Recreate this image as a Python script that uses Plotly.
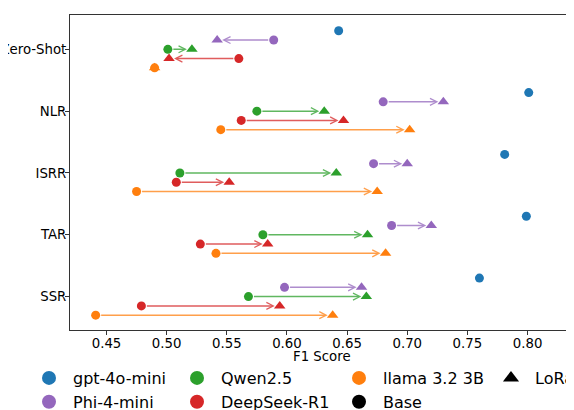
import plotly.graph_objects as go

categories = ["Zero-Shot", "NLR", "ISRR", "TAR", "SSR"]
x_ticks = [0.45, 0.50, 0.55, 0.60, 0.65, 0.70, 0.75, 0.80]
x_tick_labels = ["0.45", "0.50", "0.55", "0.60", "0.65", "0.70", "0.75", "0.80"]

gpt_base = [0.643, 0.801, 0.781, 0.799, 0.760]
phi_base = [0.589, 0.680, 0.672, 0.687, 0.598]
phi_lora = [0.542, 0.730, 0.700, 0.720, 0.662]
qwen_base = [0.501, 0.575, 0.511, 0.580, 0.568]
qwen_lora = [0.521, 0.631, 0.641, 0.667, 0.666]
deepseek_base = [0.560, 0.562, 0.508, 0.528, 0.479]
deepseek_lora = [0.502, 0.647, 0.552, 0.584, 0.594]
llama_base = [0.490, 0.545, 0.475, 0.541, 0.441]
llama_lora = [0.490, 0.702, 0.675, 0.682, 0.638]

models = [
    # name, base, lora, colour, rgba for arrows, offset
    ("gpt-4o-mini", gpt_base, None, "#1f77b4", "rgba(31,119,180,0.75)", -0.3),
    ("Phi-4-mini", phi_base, phi_lora, "#9467bd", "rgba(148,103,189,0.75)", -0.15),
    ("Qwen2.5", qwen_base, qwen_lora, "#2ca02c", "rgba(44,160,44,0.75)", 0.0),
    ("DeepSeek-R1", deepseek_base, deepseek_lora, "#d62728", "rgba(214,39,40,0.75)", 0.15),
    ("llama 3.2 3B", llama_base, llama_lora, "#ff7f0e", "rgba(255,127,14,0.75)", 0.3),
]

fig = go.Figure()
annotations = []
for name, base, lora, col, rgba, off in models:
    ys = [i + off for i in range(len(categories))]
    if lora is not None:
        fig.add_trace(go.Scatter(x=lora, y=ys, mode="markers", showlegend=False,
                                 marker=dict(symbol="triangle-up", size=10, color=col, line=dict(width=0))))
        for b, l, y in zip(base, lora, ys):
            if abs(l - b) > 1e-9:
                annotations.append(dict(x=l, y=y, ax=b, ay=y, xref="x", yref="y", axref="x", ayref="y",
                                        text="", showarrow=True, arrowhead=5, arrowsize=0.9, arrowwidth=1.5,
                                        arrowcolor=rgba, standoff=5, startstandoff=4))
    fig.add_trace(go.Scatter(x=base, y=ys, mode="markers", showlegend=False,
                             marker=dict(symbol="circle", size=9, color=col, line=dict(width=0))))

# legend entries
legend_items = [
    ("gpt-4o-mini", "circle", "#1f77b4", "legend"),
    ("Phi-4-mini", "circle", "#9467bd", "legend"),
    ("Qwen2.5", "circle", "#2ca02c", "legend2"),
    ("DeepSeek-R1", "circle", "#d62728", "legend2"),
    ("llama 3.2 3B", "circle", "#ff7f0e", "legend3"),
    ("Base", "circle", "black", "legend3"),
    ("LoRa", "triangle-up", "black", "legend4"),
]
for name, sym, col, lg in legend_items:
    fig.add_trace(go.Scatter(x=[None], y=[None], mode="markers", name=name, legend=lg,
                             legendgroup=name,
                             marker=dict(symbol=sym, size=14, color=col, line=dict(width=0))))

# the page body has an 8px margin; figure coords = page coords - 8
OFF = 8
W, H = 574, 410
PLOT_TOP = 15 - OFF
PLOT_BOT = 330 - OFF
font = "DejaVu Sans"
leg_common = dict(xref="container", yref="container", yanchor="top", xanchor="left",
                  font=dict(family=font, size=16, color="black"), itemwidth=38,
                  traceorder="grouped", tracegroupgap=0,
                  bgcolor="rgba(0,0,0,0)", borderwidth=0)
ytop = 1 - (361 - OFF) / H


def lx(sym_page_x):
    return (sym_page_x - OFF - 24) / W


title_y = (PLOT_BOT - (356 - OFF)) / (PLOT_BOT - PLOT_TOP)
annotations.append(dict(text="F1 Score", xref="paper", yref="paper", x=0.5, y=title_y,
                        xanchor="center", yanchor="middle", showarrow=False,
                        font=dict(family=font, size=13.3, color="black")))

fig.update_layout(
    width=W, height=H,
    margin=dict(l=70 - OFF, r=OFF, t=PLOT_TOP, b=H - PLOT_BOT, autoexpand=False),
    plot_bgcolor="white", paper_bgcolor="white",
    font=dict(family=font, size=13, color="black"),
    annotations=annotations,
    legend=dict(x=lx(49), y=ytop, **leg_common),
    legend2=dict(x=lx(197), y=ytop, **leg_common),
    legend3=dict(x=lx(359), y=ytop, **leg_common),
    legend4=dict(x=lx(511), y=ytop, **leg_common),
    xaxis=dict(type="linear", range=[0.41966, 0.83862], tickvals=x_ticks, ticktext=x_tick_labels,
               ticks="outside", ticklen=4, tickcolor="#333", showgrid=False, zeroline=False,
               showline=True, linecolor="#333", linewidth=1, mirror=True, automargin=False,
               ticklabelstandoff=-3,
               tickfont=dict(size=13.3)),
    yaxis=dict(type="linear", range=[4.54, -0.555], tickvals=list(range(len(categories))), ticktext=categories,
               ticks="outside", ticklen=4, tickcolor="#333", showgrid=False, zeroline=False,
               showline=True, linecolor="#333", linewidth=1, mirror=False, automargin=False,
               ticklabelstandoff=-4,
               tickfont=dict(size=13.3)),
)

fig.write_html("out.html")
